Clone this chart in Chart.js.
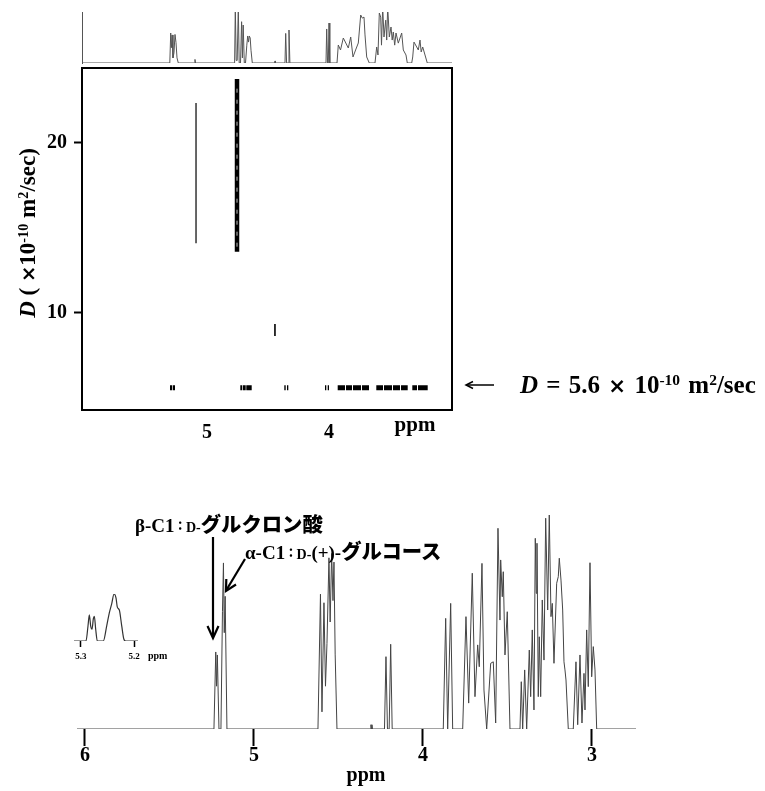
<!DOCTYPE html>
<html><head><meta charset="utf-8">
<script src="https://cdn.jsdelivr.net/npm/chart.js@4.4.1/dist/chart.umd.min.js"></script>
<style>
html,body{margin:0;padding:0;background:#fff;}
#wrap{position:relative;width:765px;height:791px;overflow:hidden;background:#fff;}
canvas{position:absolute;left:0;top:0;}
svg{position:absolute;left:0;top:0;}
.t{position:absolute;white-space:nowrap;font-family:"Liberation Serif","Times New Roman",serif;font-weight:bold;color:#000;line-height:1;}
.jp{font-family:"Noto Sans CJK JP",sans-serif;font-weight:900;font-size:1.07em;}
.sc{font-size:0.74em;}
.sup{font-size:0.62em;position:relative;top:-0.5em;}
.x{font-family:"DejaVu Sans",sans-serif;font-weight:bold;font-size:0.85em;}
.col{font-family:"Noto Sans CJK JP",sans-serif;font-weight:900;font-size:0.6em;position:relative;top:-2px;}
</style></head>
<body><div id="wrap">
<canvas id="cTop" width="765" height="791"></canvas>
<canvas id="cDosy" width="765" height="791"></canvas>
<canvas id="cSpec" width="765" height="791"></canvas>
<canvas id="cInset" width="765" height="791"></canvas>
<svg width="765" height="791" fill="none" stroke="#000">
  <line x1="213" y1="537" x2="213" y2="636" stroke-width="2.2"/>
  <polyline points="207.5,626 213,638 218.5,626" stroke-width="2.2"/>
  <line x1="245" y1="559" x2="227" y2="589" stroke-width="2.2"/>
  <polyline points="236,584.5 226,591 226.3,579" stroke-width="2.2"/>
  <line x1="467" y1="385" x2="494" y2="385" stroke-width="1.5"/>
  <polyline points="473,381.5 466,385 473,388.5" stroke-width="1.5"/>
</svg>
<div class="t" style="left:27px;top:233px;font-size:23px;transform:translate(-50%,-50%) rotate(-90deg);"><i>D</i> ( <span class="x">×</span>10<span class="sup">-10</span> m<span class="sup">2</span>/sec)</div>
<div class="t" style="left:415px;top:414px;font-size:21px;transform:translateX(-50%);">ppm</div>
<div class="t" style="left:520px;top:372px;font-size:25px;word-spacing:2px;"><i>D</i> = 5.6 <span class="x">×</span> 10<span class="sup">-10</span> m<span class="sup">2</span>/sec</div>
<div class="t" style="left:135px;top:513px;font-size:19px;">β-C1<span class="col">：</span><span class="sc">D-</span><span class="jp">グルクロン酸</span></div>
<div class="t" style="left:245px;top:540px;font-size:19px;">α-C1<span class="col">：</span><span class="sc">D-</span>(+)-<span class="jp">グルコース</span></div>
<div class="t" style="left:366px;top:764px;font-size:20px;transform:translateX(-50%);">ppm</div>
<div class="t" style="left:148px;top:651px;font-size:10px;">ppm</div>
</div>
<script>
// ---- data ----
// 1D 1H spectrum (bottom): [ppm, relative intensity]
const spectrum1H = [[6.047,0],
 [5.2367,0],[5.2260,36],[5.2213,20],[5.2166,34.6],[5.2071,0],
 [5.1953,0],[5.1864,55],[5.1805,77.6],[5.1757,45],[5.1704,62],[5.1598,0],
 [4.6213,0],[4.6065,63],[4.5976,8],[4.5858,59],[4.5769,20],[4.5680,40],[4.5562,80],[4.5491,50],[4.5402,82],[4.5325,60],[4.5266,78],[4.5195,35],[4.5089,0],
 [4.3107,0],[4.3077,2],[4.3047,0],[4.3018,2],[4.2988,0],
 [4.2278,0],[4.2189,33.8],[4.2101,0],[4.2000,0],[4.1911,39.6],[4.1822,0],
 [3.8799,0],[3.8657,51.7],[3.8538,0],[3.8361,58.7],[3.8243,0],
 [3.7651,0],[3.7456,52.5],[3.7296,12.1],[3.7083,72.8],[3.6923,15.1],[3.6763,39.3],[3.6669,29.1],[3.6509,77.4],[3.6391,18.2],[3.6231,0],
 [3.5994,30.7],[3.5840,31.4],[3.5698,2.8],[3.5562,93.8],[3.5444,50.9],[3.5402,79],[3.5308,61.8],[3.5249,73.5],[3.5148,34.6],[3.5012,54.8],[3.4852,0],
 [3.4260,0],[3.4183,22.1],[3.4101,0],[3.3982,27.6],[3.3864,0],[3.3710,36.9],[3.3627,15.1],[3.3533,46.3],[3.3432,8.9],[3.3355,89.1],[3.3296,63.4],[3.3254,86.8],[3.3178,15.1],[3.3118,43.1],[3.3036,15.1],[3.2941,60.3],[3.2840,32.2],[3.2740,98.5],[3.2621,55.6],[3.2527,100],[3.2426,52.5],[3.2349,58.7],[3.2249,30.7],[3.2089,68.1],[3.1994,71.2],[3.1935,79.8],[3.1834,69.6],[3.1734,55.6],[3.1657,31.4],[3.1598,27.6],[3.1538,22.9],[3.1402,0],
 [3.1107,0],[3.0947,31.4],[3.0846,2],[3.0710,34.6],[3.0592,2.8],[3.0473,26],[3.0414,8.9],[3.0314,46.3],[3.0219,19.8],[3.0118,77.7],[3.0018,24.4],[2.9923,38.5],[2.9822,27.6],[2.9722,0],
 [2.7396,0]];
const spectrumTicks = [6,5,4,3];

// projection above the DOSY map: [ppm, relative intensity]
const projection = [[6.0246,0],
 [5.3049,0],[5.2975,58.8],[5.2918,30],[5.2861,55],[5.2787,10],[5.2705,20],[5.2623,56],[5.2541,40],[5.2459,10],[5.2352,0],
 [5.1025,0],[5.0984,7],[5.0943,0],
 [4.7738,0],[4.7680,110],[4.7607,5],[4.7525,5],[4.7434,110],[4.7361,0],
 [4.7254,0],[4.7164,81],[4.7098,10],[4.7033,74.5],[4.6943,0],
 [4.6844,0],[4.6738,35],[4.6664,53],[4.6598,41],[4.6533,53],[4.6459,49],[4.6393,25],[4.6287,0],
 [4.4467,0],[4.4426,4],[4.4385,0],
 [4.3607,0],[4.3549,58],[4.3475,0],[4.3344,0],[4.3279,64.7],[4.3205,0],
 [4.0246,0],[4.0189,66.7],[4.0115,0],[4.0057,0],[4.0,78.4],[3.9934,0],
 [3.9344,0],[3.9238,35.3],[3.9057,25.5],[3.8828,49],[3.8623,39.2],[3.8418,29.4],[3.8221,51],[3.8033,11.8],[3.7820,25.5],[3.7598,39.2],[3.7402,94.1],[3.7270,88],[3.7131,90],[3.7049,55],[3.6910,11.8],[3.6697,0],
 [3.6230,0],[3.6090,31.4],[3.5984,15.7],[3.5877,98],[3.5762,90],[3.5697,35],[3.5598,110],[3.5492,51],[3.5352,84],[3.5270,45],[3.5189,110],[3.5057,51],[3.4918,70.6],[3.4820,45],[3.4730,60.8],[3.4615,35],[3.4508,58.8],[3.4320,39],[3.4180,49],[3.4041,58.8],[3.3910,25.5],[3.3689,15.7],[3.3582,0],
 [3.3221,0],[3.3139,11.8],[3.3033,41],[3.2811,31.4],[3.2680,25.5],[3.2541,45],[3.2443,21.6],[3.2320,31.4],[3.2131,15.7],[3.1943,0],
 [2.9918,0]];

// inset 5.3-5.2 ppm: [ppm, relative intensity]
const inset = [[5.3132,0],[5.2906,0],[5.2868,32],[5.2843,55.7],[5.2817,31.6],[5.2792,25],[5.2767,47.5],[5.2748,52.5],[5.2723,25],[5.2692,0],[5.2579,0],[5.2516,31.6],[5.2466,60],[5.2421,79],[5.2377,100],[5.234,92],[5.2315,72],[5.2277,66],[5.2232,32],[5.2189,3],[5.2157,0],[5.1925,0]];
const insetTicks = [5.3,5.2];

// DOSY map
const dosyTicksX = [5,4];
const dosyTicksY = [10,20];
const streakPpm  = [5.090, 4.754, 4.443];
const streakFrom = [14.1, 13.6, 8.65];
const streakTo   = [22.35, 23.76, 9.35];
const rowD = 5.6;
const rowStart = [5.3033,5.2787,4.7270,4.7049,4.6779,4.3664,4.3443,4.0328,4.0107,3.9287,3.8607,3.8033,3.7295,3.6123,3.5492,3.4754,3.4098,3.3172,3.2705];
const rowEnd   = [5.2844,5.2623,4.7107,4.6828,4.6336,4.3549,4.3336,4.0221,4.0000,3.8689,3.8115,3.7377,3.6721,3.5574,3.4836,3.4180,3.3549,3.2787,3.1910];

// ---- charts ----
const SERIF = '"Liberation Serif","Times New Roman",serif';
const common = {responsive:false, animation:false, events:[], plugins:{legend:{display:false}, tooltip:{enabled:false}}};
const xy = arr => arr.map(p => ({x:p[0], y:p[1]}));
const fixTicks = vals => (s => { s.ticks = vals.map(v => ({value:v})); });

// top projection
new Chart(document.getElementById('cTop'), {
  type:'line',
  data:{datasets:[{data:xy(projection), borderColor:'#555', borderWidth:1, pointRadius:0, tension:0}]},
  options:{...common,
    layout:{padding:{left:82, right:313, top:12, bottom:728}},
    scales:{
      x:{type:'linear', reverse:true, min:2.9918, max:6.0246, display:false},
      y:{min:0, max:100, display:true, ticks:{display:false}, grid:{display:false, drawTicks:false},
         border:{display:true, color:'#555', width:1}, afterFit:s=>{s.width=0;}}
    }}
});

// DOSY map
const dosySets = [];
streakPpm.forEach((p,i) => {
  dosySets.push({data:[{x:p,y:streakFrom[i]},{x:p,y:streakTo[i]}], borderColor:'#000',
    borderWidth: i===1 ? 4.5 : (i===0 ? 1.2 : 1.6), pointRadius:0, borderCapStyle:'butt', order:1});
});
dosySets.push({data:[{x:streakPpm[1],y:streakFrom[1]+0.3},{x:streakPpm[1],y:streakTo[1]-0.3}], borderColor:'rgba(255,255,255,0.75)',
  borderWidth:1, borderDash:[4,7], pointRadius:0, borderCapStyle:'butt', order:-1});
const rowData = [];
rowStart.forEach((s,i) => {
  rowData.push({x:s,y:rowD},{x:rowEnd[i],y:rowD});
  if (i < rowStart.length-1) rowData.push({x:(rowEnd[i]+rowStart[i+1])/2, y:null});
});
dosySets.push({data:rowData, borderColor:'#000', borderWidth:5, pointRadius:0, borderCapStyle:'butt', spanGaps:false, order:1});

const framePlugin = {id:'frame', afterDatasetsDraw(chart){
  const {ctx, chartArea:a} = chart; ctx.save(); ctx.strokeStyle='#000'; ctx.lineWidth=2;
  ctx.strokeRect(a.left, a.top, a.right-a.left, a.bottom-a.top); ctx.restore(); }};

new Chart(document.getElementById('cDosy'), {
  type:'line',
  data:{datasets:dosySets},
  options:{...common,
    layout:{padding:{left:0, right:313, top:68, bottom:341}},
    scales:{
      x:{type:'linear', reverse:true, min:2.9918, max:6.0246, afterBuildTicks:fixTicks(dosyTicksX),
         ticks:{color:'#000', font:{family:SERIF, weight:'bold', size:20}, padding:11, callback:v=>String(v)},
         grid:{display:false, drawTicks:false}, border:{display:false}, afterFit:s=>{s.height=40;}},
      y:{type:'linear', min:4.294, max:24.41, afterBuildTicks:fixTicks(dosyTicksY),
         ticks:{color:'#000', font:{family:SERIF, weight:'bold', size:20}, padding:7, callback:v=>String(v)},
         grid:{display:true, drawOnChartArea:false, drawTicks:true, tickLength:8, tickWidth:2, tickColor:'#000'},
         border:{display:false}, afterFit:s=>{s.width=82;}}
    }},
  plugins:[framePlugin]
});

// bottom 1H spectrum
new Chart(document.getElementById('cSpec'), {
  type:'line',
  data:{datasets:[{data:xy(spectrum1H), borderColor:'#444', borderWidth:1, pointRadius:0, tension:0}]},
  options:{...common,
    layout:{padding:{left:77, right:129, top:515, bottom:2}},
    scales:{
      x:{type:'linear', reverse:true, min:2.7396, max:6.047, afterBuildTicks:fixTicks(spectrumTicks),
         ticks:{color:'#000', font:{family:SERIF, weight:'bold', size:20, lineHeight:1}, padding:0, callback:v=>String(v)},
         grid:{display:true, drawOnChartArea:false, drawTicks:true, tickLength:17, tickWidth:2, tickColor:'#000'},
         border:{display:false}, afterFit:s=>{s.height=60;}},
      y:{min:0, max:100, display:false}
    }}
});

// inset
new Chart(document.getElementById('cInset'), {
  type:'line',
  data:{datasets:[{data:xy(inset), borderColor:'#333', borderWidth:1.2, pointRadius:0, cubicInterpolationMode:'monotone'}]},
  options:{...common,
    layout:{padding:{left:74, right:627, top:594, bottom:120}},
    scales:{
      x:{type:'linear', reverse:true, min:5.1925, max:5.3132, afterBuildTicks:fixTicks(insetTicks),
         ticks:{color:'#000', font:{family:SERIF, weight:'bold', size:9}, padding:4, callback:v=>v.toFixed(1)},
         grid:{display:true, drawOnChartArea:false, drawTicks:true, tickLength:6, tickWidth:1.5, tickColor:'#000'},
         border:{display:false}, afterFit:s=>{s.height=30;}},
      y:{min:0, max:100, display:false}
    }}
});
</script>
</body></html>
